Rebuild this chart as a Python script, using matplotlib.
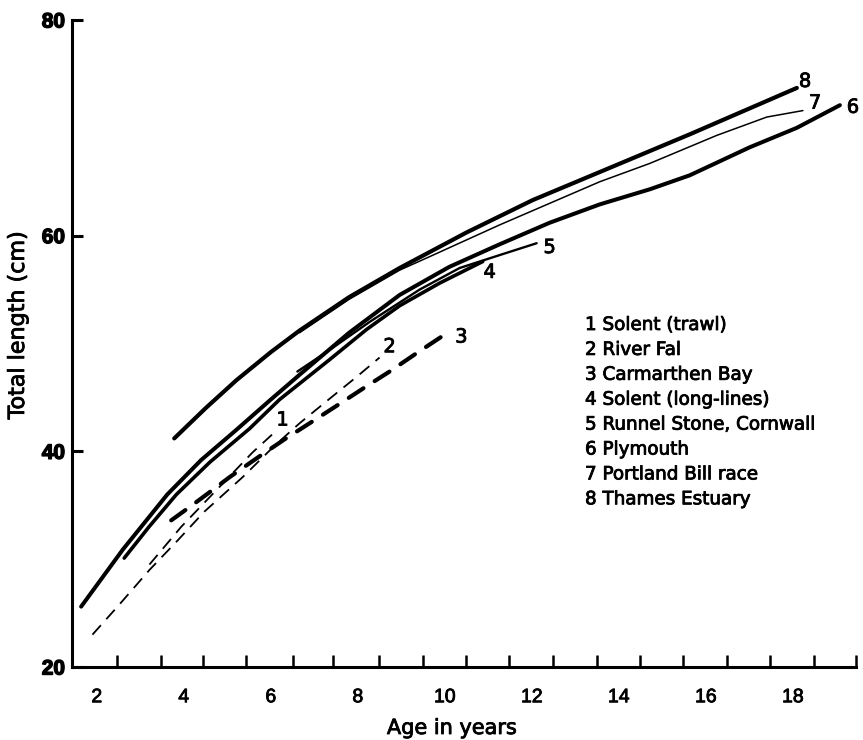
import matplotlib
matplotlib.use("Agg")
import matplotlib.pyplot as plt
import matplotlib.patheffects as pe

plt.rcParams['font.family'] = ['DejaVu Sans']

# ---- data (age in years, total length in cm) ----
age1 = [3.21, 3.94, 4.82, 5.58, 6.15]
len1 = [29.5, 33.0, 36.7, 39.9, 42.0]

age2 = [1.90, 2.52, 3.21, 3.85, 4.47, 5.35, 6.08, 6.66, 7.51, 7.97, 8.50]
len2 = [23.0, 25.8, 29.0, 31.7, 34.4, 37.6, 40.5, 42.6, 45.4, 46.9, 48.7]

age3 = [3.71, 4.19, 4.49, 5.05, 5.69, 6.31, 6.89, 7.58, 8.11, 8.73, 9.35, 10.06]
len3 = [33.6, 35.0, 35.9, 37.6, 39.4, 41.1, 42.6, 44.4, 45.8, 47.4, 49.1, 51.0]

age4 = [2.63, 3.20, 3.83, 4.60, 5.51, 6.20, 7.35, 8.20, 8.96, 9.88, 10.87]
len4 = [30.1, 33.0, 36.0, 39.0, 42.1, 44.8, 48.5, 51.3, 53.5, 55.6, 57.6]

age5 = [6.61, 7.35, 8.27, 9.42, 10.34, 11.26, 12.11]
len5 = [47.4, 49.4, 52.0, 55.0, 57.0, 58.2, 59.3]

age6 = [1.64, 2.60, 3.62, 4.40, 5.21, 5.97, 6.66, 7.80, 8.96, 10.10, 11.26,
        12.41, 13.56, 14.71, 15.63, 17.01, 18.09, 19.08]
len6 = [25.6, 30.9, 36.0, 39.2, 42.0, 44.7, 47.1, 51.0, 54.5, 57.1, 59.2,
        61.2, 62.9, 64.3, 65.6, 68.2, 70.0, 72.1]

age7 = [6.66, 7.80, 8.96, 9.73, 11.26, 12.41, 13.56, 14.71, 16.25, 17.40, 18.23]
len7 = [51.0, 54.1, 56.8, 58.2, 61.0, 63.0, 65.0, 66.7, 69.3, 71.0, 71.6]

age8 = [3.78, 4.50, 5.21, 6.00, 6.66, 7.80, 8.96, 10.50, 12.02, 13.56, 15.63, 18.09]
len8 = [41.2, 44.0, 46.6, 49.2, 51.2, 54.3, 57.0, 60.3, 63.3, 65.9, 69.4, 73.7]

curve_ids = ['1', '2', '3', '4', '5', '6', '7', '8']
label_age = [6.27, 8.73, 10.38, 11.03, 12.41, 19.38, 18.51, 18.28]
label_len = [42.9, 49.7, 50.6, 56.6, 58.9, 71.9, 72.3, 74.3]

legend_names = ['1 Solent (trawl)', '2 River Fal', '3 Carmarthen Bay',
                '4 Solent (long-lines)', '5 Runnel Stone, Cornwall',
                '6 Plymouth', '7 Portland Bill race', '8 Thames Estuary']

x_tick_labels = [2, 4, 6, 8, 10, 12, 14, 16, 18]
x_tick_marks = [2.46, 3.48, 4.45, 5.44, 6.50, 7.44, 8.48, 9.49, 10.48, 11.47,
                12.48, 13.49, 14.48, 15.47, 16.48, 17.47, 18.48, 19.45]
y_ticks = [20, 40, 60, 80]

# ---- figure ----
W, H = 863, 740
fig = plt.figure(figsize=(W / 100, H / 100), dpi=100)
ax = fig.add_axes([72 / W, 73 / H, 784 / W, 647 / H])

k = 'black'
heavy = [pe.withStroke(linewidth=0.6, foreground=k)]
heavier = [pe.withStroke(linewidth=1.0, foreground=k)]

ax.plot(age1, len1, color=k, lw=1.3, dashes=(7, 4.5))
ax.plot(age2, len2, color=k, lw=1.3, dashes=(7, 4.5))
ax.plot(age3, len3, color=k, lw=3.0, dashes=(4.2, 3.2), dash_capstyle='round')
ax.plot(age4, len4, color=k, lw=2.6, solid_capstyle='round', solid_joinstyle='round')
ax.plot(age5, len5, color=k, lw=1.7, solid_capstyle='round', solid_joinstyle='round')
ax.plot(age6, len6, color=k, lw=2.9, solid_capstyle='round', solid_joinstyle='round')
ax.plot(age7, len7, color=k, lw=1.1, solid_capstyle='round', solid_joinstyle='round')
ax.plot(age8, len8, color=k, lw=3.0, solid_capstyle='round', solid_joinstyle='round')

for cid, xa, ya in zip(curve_ids, label_age, label_len):
    ax.text(xa, ya, cid, fontsize=14, ha='center', va='center', color=k,
            path_effects=heavy)

ax.set_xlim(1.43, 19.45)
ax.set_ylim(20, 80)

for s in ['top', 'right']:
    ax.spines[s].set_visible(False)
for s in ['left', 'bottom']:
    ax.spines[s].set_linewidth(2.2)

ax.set_xticks(x_tick_labels)
ax.set_xticklabels([str(v) for v in x_tick_labels],
                   fontdict={'family': 'Liberation Sans', 'size': 14},
                   path_effects=heavy)
ax.set_xticks(x_tick_marks, minor=True)
ax.tick_params(axis='x', which='major', length=0, pad=16)
ax.tick_params(axis='x', which='minor', direction='in', length=9, width=1.8)

ax.set_yticks(y_ticks)
ax.set_yticklabels([str(v) for v in y_ticks],
                   fontdict={'family': 'Liberation Sans', 'size': 15,
                             'weight': 'bold'},
                   path_effects=heavier)
ax.tick_params(axis='y', which='major', direction='in', length=8, width=2.2, pad=5)

fig.text(18 / W, 1 - 325 / H, 'Total length (cm)', rotation=90,
         ha='center', va='center', fontsize=16, path_effects=heavy)
fig.text(452 / W, 1 - 728 / H, 'Age in years', ha='center', va='center',
         fontsize=15, path_effects=heavy)

for i, name in enumerate(legend_names):
    fig.text(585 / W, 1 - (325 + i * 24.9) / H, name, ha='left', va='center',
             fontsize=13.2, path_effects=heavy)

fig.savefig('out.png', dpi=100, facecolor='white')
